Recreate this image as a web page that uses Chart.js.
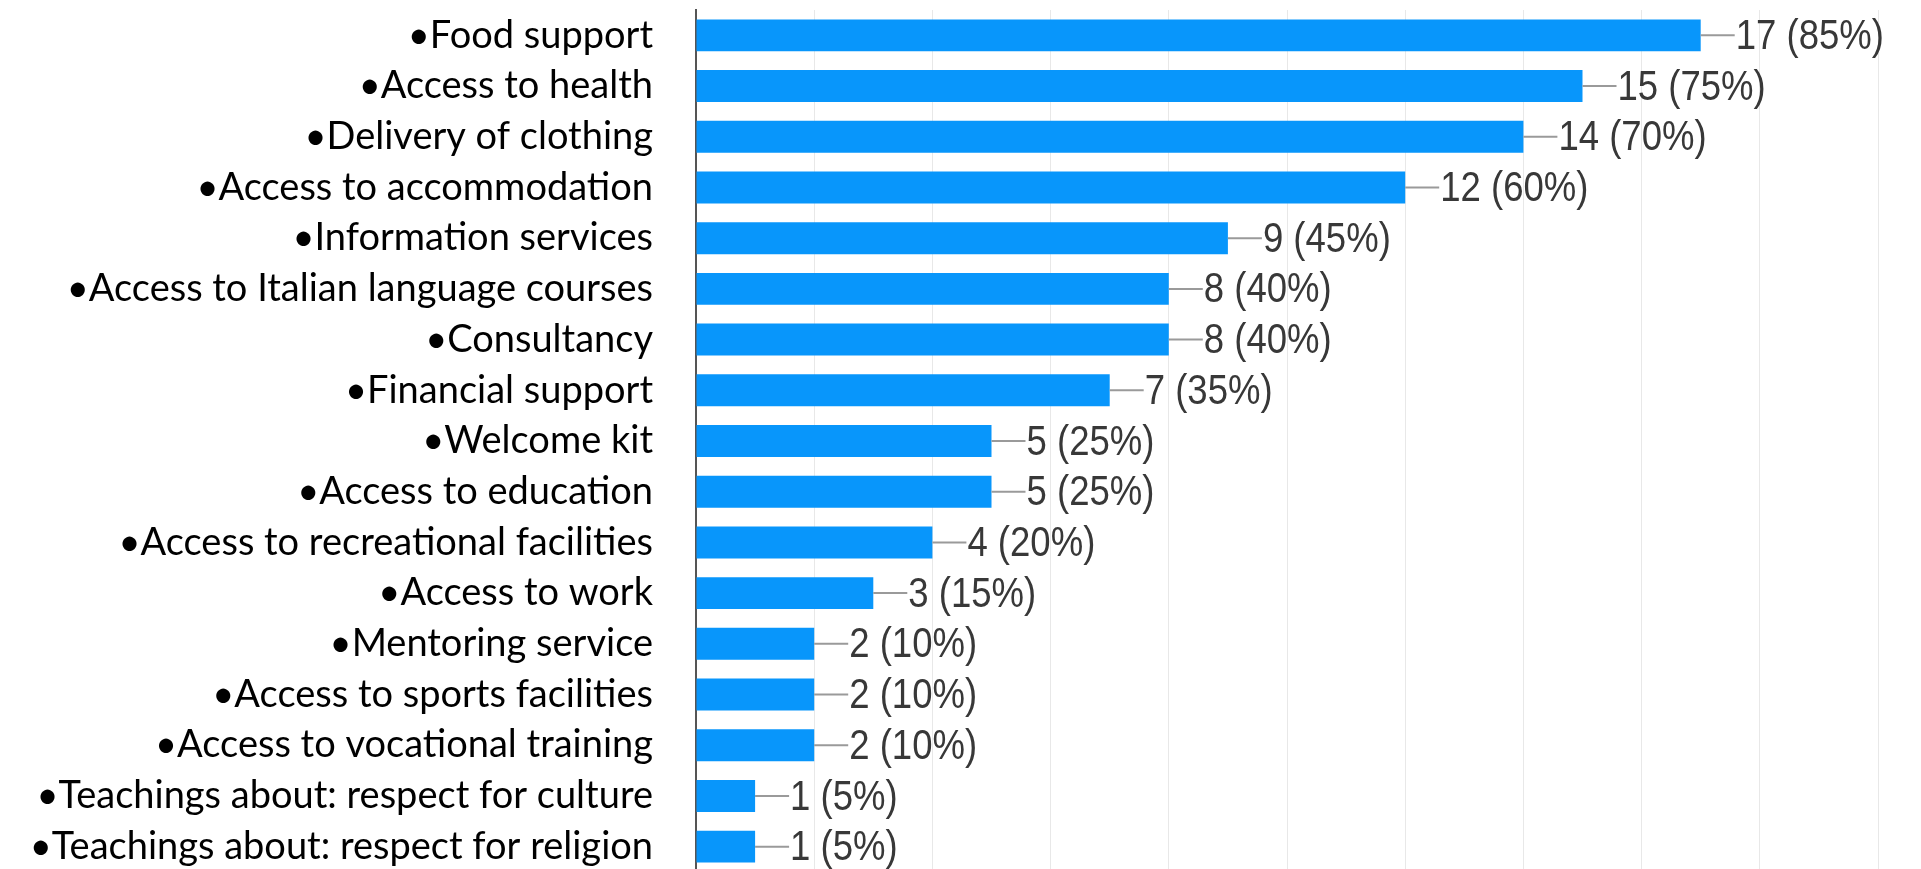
<!DOCTYPE html>
<html>
<head>
<meta charset="utf-8">
<script src="https://cdn.jsdelivr.net/npm/chart.js@4.4.0/dist/chart.umd.min.js"></script>
<style>
  html, body { margin: 0; padding: 0; background: #fff; overflow: hidden; }
</style>
</head>
<body>
<canvas id="chart" width="1921" height="875"></canvas>
<script>
// services offered (answers out of 20)
const categories = [
  '•Food support',
  '•Access to health',
  '•Delivery of clothing',
  '•Access to accommodation',
  '•Information services',
  '•Access to Italian language courses',
  '•Consultancy',
  '•Financial support',
  '•Welcome kit',
  '•Access to education',
  '•Access to recreational facilities',
  '•Access to work',
  '•Mentoring service',
  '•Access to sports facilities',
  '•Access to vocational training',
  '•Teachings about: respect for culture',
  '•Teachings about: respect for religion'
];
const counts = [17, 15, 14, 12, 9, 8, 8, 7, 5, 5, 4, 3, 2, 2, 2, 1, 1];
const percents = [85, 75, 70, 60, 45, 40, 40, 35, 25, 25, 20, 15, 10, 10, 10, 5, 5];
const xMax = 20;

// grey tick + "n (p%)" after each bar
const barLabels = {
  id: 'barLabels',
  afterDatasetsDraw(chart) {
    const { ctx } = chart;
    const meta = chart.getDatasetMeta(0);
    meta.data.forEach((bar, i) => {
      ctx.save();
      ctx.strokeStyle = '#9a9a9a';
      ctx.lineWidth = 2;
      ctx.beginPath();
      ctx.moveTo(bar.x, bar.y);
      ctx.lineTo(bar.x + 34, bar.y);
      ctx.stroke();
      ctx.translate(bar.x + 35, bar.y + 2);
      ctx.scale(0.87, 1);
      ctx.font = '42px "Liberation Sans", Arial, sans-serif';
      ctx.textBaseline = 'middle';
      ctx.textAlign = 'left';
      ctx.fillStyle = '#383838';
      ctx.fillText(counts[i] + ' (' + percents[i] + '%)', 0, 0);
      ctx.restore();
    });
  }
};

new Chart(document.getElementById('chart'), {
  type: 'bar',
  data: {
    labels: categories,
    datasets: [{ data: counts, backgroundColor: '#0896fb', borderWidth: 0,
      barPercentage: 0.7, categoryPercentage: 0.9 }]
  },
  options: {
    indexAxis: 'y',
    responsive: false,
    animation: false,
    layout: { padding: { top: 10, right: 43, bottom: 3, left: 0 } },
    plugins: { legend: { display: false }, tooltip: { enabled: false } },
    scales: {
      x: {
        min: 0, max: xMax,
        ticks: { display: false, stepSize: 2 },
        grid: { color: '#e8e8e8', lineWidth: 1, drawTicks: false },
        border: { display: false }
      },
      y: {
        afterFit(scale) {
          scale.width = 696;
          scale.paddingTop = 0;
          scale.paddingBottom = 0;
        },
        ticks: { color: '#000', padding: 43, autoSkip: false,
          font: { family: 'Lato, "Noto Sans", sans-serif', size: 38 } },
        grid: { display: false, drawTicks: false },
        border: { display: true, color: '#555', width: 2 }
      }
    }
  },
  plugins: [barLabels]
});
</script>
</body>
</html>
